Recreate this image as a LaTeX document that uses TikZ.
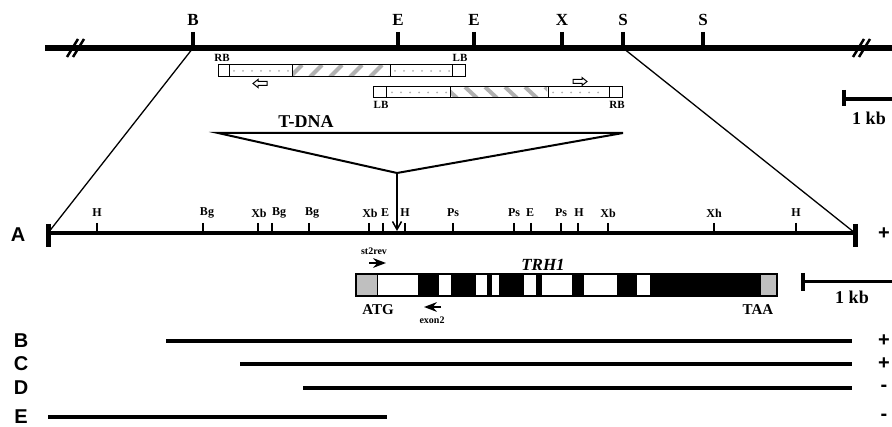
\documentclass[tikz,border=0pt]{standalone}
\usepackage{fontspec}
\setmainfont{Liberation Serif}
\newfontfamily\lanefont{Liberation Sans}
\usetikzlibrary{arrows.meta}

\begin{document}
\begin{tikzpicture}[
  x=1pt, y=-1pt,
  >=Stealth,
  site/.style={font=\bfseries\fontsize{17}{17}\selectfont, inner sep=0pt},
  smallsite/.style={font=\bfseries\fontsize{12}{12}\selectfont, inner sep=0pt},
  border/.style={font=\bfseries\fontsize{11}{11}\selectfont, inner sep=0pt},
  primer/.style={font=\bfseries\fontsize{10}{10}\selectfont, inner sep=0pt},
  codon/.style={font=\bfseries\fontsize{15}{15}\selectfont, inner sep=0pt},
  scalelab/.style={font=\bfseries\fontsize{18}{18}\selectfont, inner sep=0pt},
  lane/.style={font=\lanefont\bfseries\fontsize{20}{20}\selectfont, inner sep=0pt},
  tdnabox/.style={draw, line width=1pt, fill=white},
  dotfill/.style={fill=gray!60},
  hatch/.style={draw=gray!60, line width=4pt}
]
\useasboundingbox (0,0) rectangle (892,427);

% genomic region with restriction sites
\coordinate (siteB) at (193,48);
\coordinate (siteS) at (623,48);
\coordinate (mapL) at (48,233);
\coordinate (mapR) at (855,233);
\draw[line width=1.3pt] (siteB) -- (mapL);
\draw[line width=1.3pt] (siteS) -- (mapR);
\draw[line width=6pt] (45,48) -- (900,48);
\foreach \x/\lab [count=\i] in {193/B,398/E,474/E,562/X,623/S,703/S} {
  \draw[line width=3.5pt] (\x,32) -- (\x,48);
  \node[site] (top\i) at (\x,20) {\lab};
}
% break marks
\foreach \x in {72,858} {
  \draw[line width=2.5pt] (\x-5,57) -- (\x+6,39);
  \draw[line width=2.5pt] (\x+1,57) -- (\x+12,39);
}

% T-DNA copies
\draw[tdnabox] (218,65) rectangle (465,77);
\draw[line width=1pt] (229,65) -- (229,77) (292,65) -- (292,77) (390,65) -- (390,77) (452,65) -- (452,77);
\foreach \x in {234,243,...,288} \fill[dotfill] (\x,71) circle (1);
\foreach \x in {395,404,...,449} \fill[dotfill] (\x,71) circle (1);
\begin{scope}
  \clip (293,66) rectangle (389,76);
  \foreach \x in {290,310,...,390} \draw[hatch] (\x,77) -- (\x+12,65);
\end{scope}
\node[border] (rb1) at (222,58) {RB};
\node[border] (lb1) at (460,58) {LB};
\draw[line width=1pt] (253,83.5) -- (258,79.5) -- (258,81.5) -- (267,81.5) -- (267,85.5) -- (258,85.5) -- (258,87.5) -- cycle;

\draw[tdnabox] (373,87) rectangle (622,98);
\draw[line width=1pt] (386,87) -- (386,98) (450,87) -- (450,98) (548,87) -- (548,98) (609,87) -- (609,98);
\foreach \x in {392,401,...,446} \fill[dotfill] (\x,92.5) circle (1);
\foreach \x in {553,562,...,605} \fill[dotfill] (\x,92.5) circle (1);
\begin{scope}
  \clip (451,88) rectangle (547,97);
  \foreach \x in {445,465,...,545} \draw[hatch] (\x,87) -- (\x+12,98);
\end{scope}
\node[border] (lb2) at (381,105) {LB};
\node[border] (rb2) at (617,105) {RB};
\draw[line width=1pt] (587,81.5) -- (582,77.5) -- (582,79.5) -- (573,79.5) -- (573,83.5) -- (582,83.5) -- (582,85.5) -- cycle;

% insertion
\node[font=\bfseries\fontsize{18}{18}\selectfont, inner sep=0pt] (tdna) at (306,122) {T-DNA};
\coordinate (apex) at (397,173);
\coordinate (hit) at (397,231);
\draw[line width=2pt, line join=miter] (218,133) -- (623,133) -- (apex) -- cycle;
\draw[line width=1.5pt, -{Straight Barb[length=8pt,width=9pt]}] (apex) -- (hit);

% top scale bar
\draw[line width=4pt] (844,99) -- (900,99);
\draw[line width=4pt] (844,90) -- (844,106);
\node[scalelab] (kb1) at (869,118) {1 kb};

% A: mapped region
\draw[line width=3.5pt] (mapL) -- (mapR);
\draw[line width=5pt] (48,224) -- (48,247);
\draw[line width=5pt] (855,224) -- (855,247);
\foreach \x/\lx/\lab [count=\i] in {97/97/H,203/207/Bg,258/259/Xb,272/279/Bg,309/312/Bg,369/370/Xb,383/385/E,405/405/H,
    453/453/Ps,514/514/Ps,531/530/E,561/561/Ps,578/579/H,608/608/Xb,714/714/Xh,796/796/H} {
  \draw[line width=1.8pt] (\x,223) -- (\x,233);
  \node[smallsite] (mid\i) at (\lx,213) {\lab};
}
\node[lane] (laneA) at (18,235) {A};
\node[lane] (signA) at (884,234) {+};

% TRH1 gene
\fill[gray!50] (356,274) rectangle (377,296);
\fill[gray!50] (761,274) rectangle (777,296);
\fill (418,274) rectangle (439,296);
\fill (451,274) rectangle (476,296);
\fill (487,274) rectangle (492,296);
\fill (499,274) rectangle (524,296);
\fill (536,274) rectangle (542,296);
\fill (572,274) rectangle (584,296);
\fill (617,274) rectangle (637,296);
\fill (650,274) rectangle (761,296);
\draw[line width=1.3pt] (356,274) rectangle (777,296);
\draw[line width=1pt] (377,274) -- (377,296);
\node[font=\bfseries\itshape\fontsize{17}{17}\selectfont, inner sep=0pt] (gene) at (543,265) {TRH1};
\node[codon] (atg) at (378,310) {ATG};
\node[codon] (taa) at (758,310) {TAA};
\node[primer] (st2rev) at (374,251) {st2rev};
\draw[line width=2.2pt, ->] (369,263) -- (386,263);
\node[primer] (exon2) at (432,320) {exon2};
\draw[line width=2.2pt, ->] (441,307) -- (424,307);

% lower scale bar
\draw[line width=3pt] (803,282) -- (900,282);
\draw[line width=4pt] (803,273) -- (803,291);
\node[scalelab] (kb2) at (852,297) {1 kb};

% B-E: other fragments
\foreach \lab/\xa/\xb/\y/\s in {B/166/852/341/+,C/240/852/364/+,D/303/852/388/-,E/48/387/417/-} {
  \node[lane] (lane\lab) at (21,\y) {\lab};
  \draw[line width=4pt] (\xa,\y) -- (\xb,\y);
  \node[lane] (sign\lab) at (884,\y) {\s};
}
\end{tikzpicture}
\end{document}
